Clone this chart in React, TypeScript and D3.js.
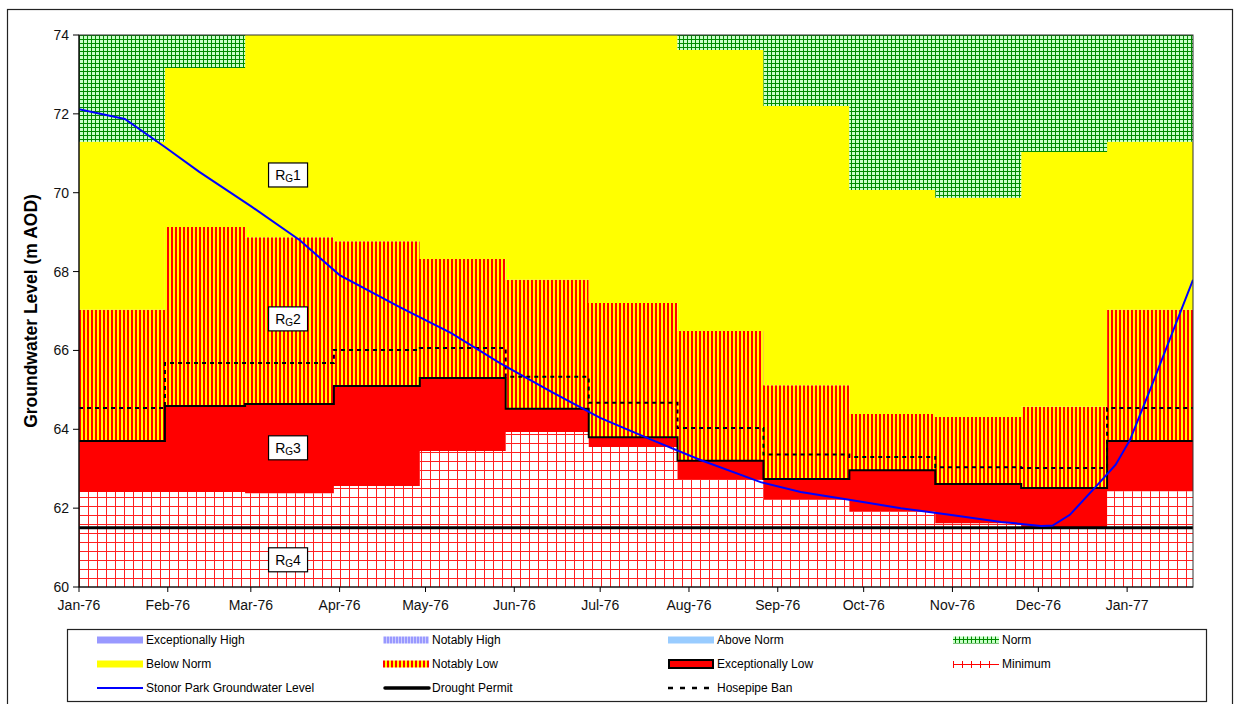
import * as d3 from 'd3';

const parseDay = d3.timeParse('%Y-%m-%d');

// start of each monthly step of the level bands, and the end of the record
const stepStarts = ['1976-01-01', '1976-01-31', '1976-02-28', '1976-03-30', '1976-04-29', '1976-05-29', '1976-06-27',
  '1976-07-28', '1976-08-27', '1976-09-26', '1976-10-26', '1976-11-25', '1976-12-25'];
const stepEnd = '1977-01-24';

// upper edge of each band (m AOD), one value per step
const minimumTop = [62.41, 62.41, 62.38, 62.56, 63.45, 63.93, 63.55, 62.74, 62.21, 61.91, 61.62, 61.5, 62.43];
const exceptionallyLowTop = [63.7, 64.59, 64.64, 65.1, 65.3, 64.52, 63.8, 63.2, 62.74, 62.96, 62.61, 62.51, 63.7];
const notablyLowTop = [67.03, 69.13, 68.87, 68.77, 68.32, 67.79, 67.2, 66.49, 65.12, 64.39, 64.31, 64.57, 67.03];
const belowNormTop = [71.29, 73.16, 74.6, 74.8, 74.7, 74.5, 74.3, 73.62, 72.2, 70.07, 69.87, 71.03, 71.29];
const hosepipeBan = [64.54, 65.68, 65.68, 66.01, 66.06, 65.33, 64.67, 64.03, 63.36, 63.3, 63.04, 63.02, 64.54];
const droughtPermit = 61.5;

// Stonor Park observed groundwater level
const gwDates = ['1976-01-01', '1976-01-17', '1976-01-31', '1976-02-12', '1976-03-01', '1976-03-18', '1976-04-01',
  '1976-04-22', '1976-05-10', '1976-05-27', '1976-06-14', '1976-07-01', '1976-07-19', '1976-08-05', '1976-08-26',
  '1976-09-09', '1976-09-27', '1976-10-14', '1976-10-31', '1976-11-18', '1976-12-02', '1976-12-06', '1976-12-12',
  '1976-12-21', '1976-12-28', '1977-01-02', '1977-01-09', '1977-01-24'];
const gwLevels = [72.12, 71.87, 71.16, 70.53, 69.66, 68.8, 67.91, 67.1, 66.44, 65.68, 64.95, 64.29, 63.73, 63.22, 62.66,
  62.41, 62.2, 62.0, 61.83, 61.65, 61.55, 61.56, 61.83, 62.54, 63.1, 63.73, 65.0, 67.79];

const monthTicks = ['1976-01-01', '1976-02-01', '1976-03-01', '1976-04-01', '1976-05-01', '1976-06-01', '1976-07-01',
  '1976-08-01', '1976-09-01', '1976-10-01', '1976-11-01', '1976-12-01', '1977-01-01'];
const levelTicks = [60, 62, 64, 66, 68, 70, 72, 74];

// zone labels R_G1..R_G4
const zoneNames = ['1', '2', '3', '4'];
const zoneDates = ['1976-03-14', '1976-03-14', '1976-03-14', '1976-03-14'];
const zoneLevels = [70.45, 66.8, 63.53, 60.69];

const legendNames = ['Exceptionally High', 'Notably High', 'Above Norm', 'Norm',
  'Below Norm', 'Notably Low', 'Exceptionally Low', 'Minimum',
  'Stonor Park Groundwater Level', 'Drought Permit', 'Hosepipe Ban'];

const font = '"Liberation Sans", Arial, sans-serif';

export default function App() {
  const width = 1240;
  const height = 704;
  const left = 79, right = 1193, top = 35, bottom = 587;

  const x = d3.scaleTime()
    .domain([parseDay('1976-01-01')!, parseDay(stepEnd)!])
    .range([left, right]);
  const y = d3.scaleLinear().domain([60, 74]).range([bottom, top]);

  const steps = stepStarts.concat([stepEnd]).map(d => parseDay(d)!);
  const idx = d3.range(steps.length);
  const at = (v: number[] | number, i: number) => typeof v === 'number' ? v : v[Math.min(i, v.length - 1)];

  const band = (lower: number[] | number, upper: number[] | number) =>
    d3.area<number>().curve(d3.curveStepAfter)
      .x(i => x(steps[i]))
      .y0(i => y(at(lower, i)))
      .y1(i => y(at(upper, i)))(idx) ?? '';

  const stepLine = (v: number[]) =>
    d3.line<number>().curve(d3.curveStepAfter).x(i => x(steps[i])).y(i => y(at(v, i)))(idx) ?? '';

  const gwLine = d3.line<number>()
    .x(i => x(parseDay(gwDates[i])!))
    .y(i => y(gwLevels[i]))(d3.range(gwDates.length)) ?? '';

  const legendCols = [97, 383, 668, 953];
  const legendRows = [640, 664, 688];

  const swatch = (name: string, sx: number, sy: number) => {
    const w = 46;
    switch (name) {
      case 'Exceptionally High': return <rect x={sx} y={sy - 3.5} width={w} height={7} fill="#9999ff" />;
      case 'Notably High': return <rect x={sx} y={sy - 3.5} width={w} height={7} fill="url(#blueStripes)" />;
      case 'Above Norm': return <rect x={sx} y={sy - 3.5} width={w} height={7} fill="#99ccff" />;
      case 'Norm': return <rect x={sx} y={sy - 3.5} width={w} height={7} fill="url(#greenGrid)" />;
      case 'Below Norm': return <rect x={sx} y={sy - 3.5} width={w} height={7} fill="#ffff00" />;
      case 'Notably Low': return <rect x={sx} y={sy - 3.5} width={w} height={7} fill="url(#redYellow)" />;
      case 'Exceptionally Low': return <rect x={sx + 1} y={sy - 4} width={w - 2} height={8} fill="#ff0000" stroke="#000" strokeWidth={2} />;
      case 'Minimum': return (
        <g stroke="#ff0000" strokeWidth={1}>
          <line x1={sx} x2={sx + w} y1={sy + 0.5} y2={sy + 0.5} />
          {d3.range(0, 5).map(k => <line key={k} x1={sx + 0.5 + k * 9} x2={sx + 0.5 + k * 9} y1={sy - 3} y2={sy + 4} />)}
        </g>);
      case 'Stonor Park Groundwater Level': return <line x1={sx} x2={sx + w} y1={sy} y2={sy} stroke="#0000ff" strokeWidth={2} />;
      case 'Drought Permit': return <line x1={sx + 2} x2={sx + w} y1={sy} y2={sy} stroke="#000" strokeWidth={3.5} strokeLinecap="round" />;
      default: return <line x1={sx} x2={sx + w} y1={sy} y2={sy} stroke="#000" strokeWidth={2.5} strokeDasharray="5,7" />;
    }
  };

  return (
    <svg width={width} height={height} style={{ position: 'absolute', left: 0, top: 0, background: '#fff' }}
      fontFamily={font}>
      <defs>
        <pattern id="greenGrid" patternUnits="userSpaceOnUse" x={left} y={top} width={4} height={4}>
          <rect width={4} height={4} fill="#c8ffc8" />
          <path d="M0,0.5H4M0.5,0V4" stroke="#008a00" strokeWidth={1} />
        </pattern>
        <pattern id="redYellow" patternUnits="userSpaceOnUse" x={left} y={0} width={4} height={4}>
          <rect width={4} height={4} fill="#ffff00" />
          <rect width={2} height={4} fill="#ff0000" />
        </pattern>
        <pattern id="blueStripes" patternUnits="userSpaceOnUse" x={0} y={0} width={3} height={3}>
          <rect width={3} height={3} fill="#ccccff" />
          <rect width={2} height={3} fill="#9999ff" />
        </pattern>
        <pattern id="redGrid" patternUnits="userSpaceOnUse" x={left} y={bottom} width={9} height={9}>
          <rect width={9} height={9} fill="#ffffff" />
          <path d="M0,0.5H9M0.5,0V9" stroke="#ff2020" strokeWidth={1} />
        </pattern>
        <clipPath id="plotClip">
          <rect x={left} y={top} width={right - left} height={bottom - top} />
        </clipPath>
      </defs>

      {/* chart frame */}
      <rect x={7.5} y={9.5} width={1225} height={720} fill="none" stroke="#222" strokeWidth={1.2} />

      <g clipPath="url(#plotClip)">
        <path d={band(60, minimumTop)} fill="url(#redGrid)" />
        <path d={band(minimumTop, exceptionallyLowTop)} fill="#ff0000" />
        <path d={band(exceptionallyLowTop, notablyLowTop)} fill="url(#redYellow)" />
        <path d={band(notablyLowTop, belowNormTop)} fill="#ffff00" />
        <path d={band(belowNormTop, 74)} fill="url(#greenGrid)" />
        <path d={stepLine(hosepipeBan)} fill="none" stroke="#000" strokeWidth={2} strokeDasharray="4,4" />
        <path d={stepLine(exceptionallyLowTop)} fill="none" stroke="#000" strokeWidth={2} />
        <line x1={left} x2={right} y1={y(droughtPermit)} y2={y(droughtPermit)} stroke="#000" strokeWidth={3} />
        <path d={gwLine} fill="none" stroke="#0000ff" strokeWidth={2} />
      </g>

      <rect x={left} y={top} width={right - left} height={bottom - top} fill="none" stroke="#333" strokeWidth={1} />

      {/* zone labels */}
      {zoneNames.map((n, i) => {
        const cx = x(parseDay(zoneDates[i])!);
        const cy = y(zoneLevels[i]);
        return (
          <g key={n}>
            <rect x={cx - 19.5} y={cy - 12} width={39} height={24} fill="#fff" stroke="#000" strokeWidth={1.2} />
            <text x={cx} y={cy + 5} textAnchor="middle" fontSize={14} fill="#000">
              R<tspan fontSize={10} dy={2}>G</tspan><tspan dy={-2}>{n}</tspan>
            </text>
          </g>
        );
      })}

      {/* y axis */}
      <line x1={left} x2={left} y1={top} y2={bottom} stroke="#000" />
      {levelTicks.map(t => (
        <g key={t}>
          <line x1={left - 6} x2={left} y1={y(t)} y2={y(t)} stroke="#000" />
          <text x={left - 10} y={y(t) + 5} textAnchor="end" fontSize={14} fill="#111">{t}</text>
        </g>
      ))}
      <text transform={`translate(37,${(top + bottom) / 2}) rotate(-90)`} textAnchor="middle" fontSize={17.5}
        fontWeight="bold" fill="#000">Groundwater Level (m AOD)</text>

      {/* x axis */}
      <line x1={left} x2={right} y1={bottom} y2={bottom} stroke="#000" />
      {monthTicks.map(t => {
        const d = parseDay(t)!;
        return (
          <g key={t}>
            <line x1={x(d)} x2={x(d)} y1={bottom} y2={bottom + 5} stroke="#000" />
            <text x={x(d)} y={bottom + 23} textAnchor="middle" fontSize={14} fill="#111">{d3.timeFormat('%b-%y')(d)}</text>
          </g>
        );
      })}

      {/* legend */}
      <rect x={67.5} y={629.5} width={1139} height={72} fill="#fff" stroke="#222" strokeWidth={1.2} />
      {legendNames.map((n, i) => {
        const sx = legendCols[i % 4];
        const sy = legendRows[Math.floor(i / 4)];
        return (
          <g key={n}>
            {swatch(n, sx, sy)}
            <text x={sx + 49} y={sy + 4} fontSize={12} fill="#000">{n}</text>
          </g>
        );
      })}
    </svg>
  );
}
